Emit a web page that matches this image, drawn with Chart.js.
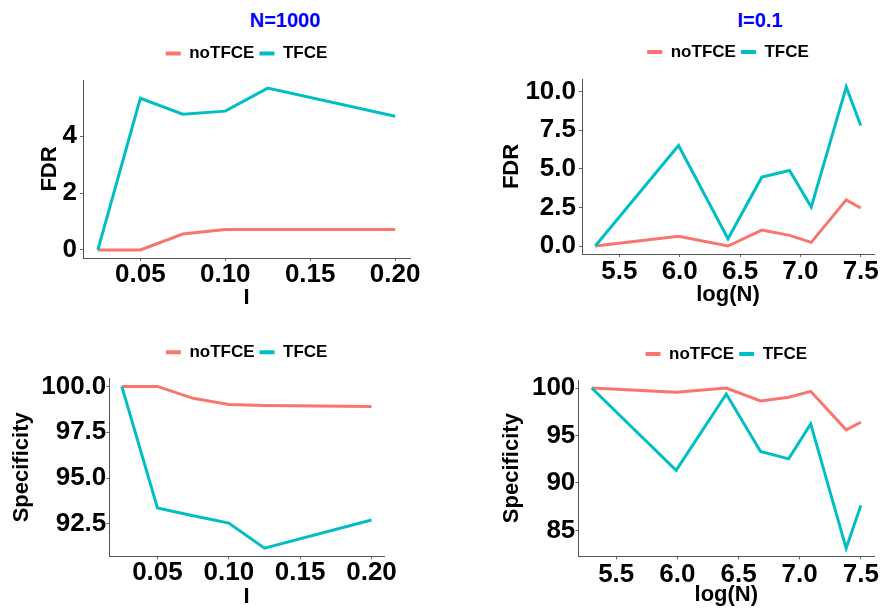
<!DOCTYPE html>
<html><head><meta charset="utf-8">
<script src="https://cdn.jsdelivr.net/npm/chart.js@4.4.1/dist/chart.umd.min.js"></script>
<style>
html,body{margin:0;padding:0;background:#fff;overflow:hidden;width:884px;height:611px;position:relative;}
canvas{position:absolute;}
.ttl{position:absolute;width:200px;text-align:center;font:bold 20px "Liberation Sans",Arial,sans-serif;color:#0000ff;line-height:24px;}
</style></head><body>
<div class="ttl" style="left:185px;top:8px">N=1000</div>
<div class="ttl" style="left:660px;top:8px">I=0.1</div>
<canvas id="c1" width="440" height="311" style="left:0px;top:0px"></canvas>
<canvas id="c2" width="458" height="311" style="left:442px;top:0px"></canvas>
<canvas id="c3" width="440" height="291" style="left:0px;top:320px"></canvas>
<canvas id="c4" width="458" height="291" style="left:442px;top:320px"></canvas>
<script>
// ---- data ----
const seriesNames = ['noTFCE', 'TFCE'];
const seriesColors = ['#F8766D', '#00BFC4'];

// left column: N = 1000, x = I
const iValues = [0.025, 0.05, 0.075, 0.1, 0.125, 0.2];
const fdrI_noTFCE = [0, 0, 0.56, 0.72, 0.72, 0.72];
const fdrI_TFCE = [0, 5.33, 4.77, 4.88, 5.69, 4.70];
const specI_noTFCE = [100, 100, 99.35, 99.01, 98.96, 98.90];
const specI_TFCE = [100, 93.37, 92.95, 92.55, 91.18, 92.72];

// right column: I = 0.1, x = log(N)
const logN = [5.30, 5.99, 6.40, 6.68, 6.91, 7.09, 7.38, 7.50];
const fdrN_noTFCE = [0, 0.63, 0, 1.03, 0.69, 0.24, 2.99, 2.46];
const fdrN_TFCE = [0, 6.51, 0.47, 4.46, 4.89, 2.52, 10.30, 7.80];
const specN_noTFCE = [100, 99.55, 100, 98.63, 99.02, 99.65, 95.59, 96.39];
const specN_TFCE = [100, 91.32, 99.37, 93.31, 92.54, 96.22, 83.12, 87.64];

// tick labels
const iTicks = [0.05, 0.10, 0.15, 0.20];
const logNTicks = [5.5, 6.0, 6.5, 7.0, 7.5];
const fdrITicks = [0, 2, 4];
const fdrNTicks = [0, 2.5, 5, 7.5, 10];
const specITicks = [92.5, 95, 97.5, 100];
const specNTicks = [85, 90, 95, 100];

Chart.defaults.font.family = '"Liberation Sans", Arial, sans-serif';

function expand(vals) {
  const mn = Math.min(...vals), mx = Math.max(...vals), d = (mx - mn) * 0.05;
  return [mn - d, mx + d];
}

function panel(id, xs, series, xTicks, xDec, yTicks, yDec, xTitle, yTitle, g) {
  const [xmin, xmax] = expand(xs);
  const [ymin, ymax] = expand(series[0].concat(series[1]));
  new Chart(document.getElementById(id), {
    type: 'line',
    data: {
      datasets: series.map((vals, i) => ({
        label: seriesNames[i],
        data: xs.map((xv, j) => ({x: xv, y: vals[j]})),
        borderColor: seriesColors[i],
        backgroundColor: seriesColors[i],
        borderWidth: 3,
        pointRadius: 0,
        tension: 0,
        fill: false,
        order: 1 - i
      }))
    },
    options: {
      responsive: false,
      animation: false,
      devicePixelRatio: 1,
      layout: {padding: {left: 0, right: g.padR, top: g.padT, bottom: 0}},
      plugins: {
        tooltip: {enabled: false},
        legend: {
          display: true, position: 'top', fullSize: false,
          labels: {
            font: {size: 17, weight: 'bold'}, color: '#000',
            boxWidth: 15, boxHeight: 4, padding: 5,
            sort: (a, b) => a.datasetIndex - b.datasetIndex,
            generateLabels: (chart) => chart.data.datasets.map((d, i) => ({
              text: d.label, fillStyle: d.borderColor, strokeStyle: d.borderColor,
              lineWidth: 0, hidden: false, datasetIndex: i, fontColor: '#000'
            }))
          }
        },
        title: {display: true, text: '', weight: 500, position: 'top', fullSize: false,
                font: {size: g.gap, lineHeight: 1}, padding: 0}
      },
      scales: {
        x: {
          type: 'linear', min: xmin, max: xmax,
          afterBuildTicks: (s) => { s.ticks = xTicks.map(v => ({value: v})); },
          afterFit: (s) => { s.height = g.xh; },
          ticks: {callback: (v) => Number(v).toFixed(xDec), font: {size: 26, weight: 'bold', lineHeight: 1},
                  color: '#000', padding: g.xtp, maxRotation: 0, autoSkip: false},
          grid: {display: true, drawOnChartArea: false, drawTicks: true, tickLength: 3, color: '#666'},
          border: {display: true, color: '#555', width: 1},
          title: {display: true, text: xTitle, font: {size: 22, weight: 'bold', lineHeight: 1.2},
                  color: '#000', padding: {top: 0, bottom: g.xtb}}
        },
        y: {
          type: 'linear', min: ymin, max: ymax,
          afterBuildTicks: (s) => { s.ticks = yTicks.map(v => ({value: v})); },
          afterFit: (s) => { s.width = g.yw; },
          ticks: {callback: (v) => Number(v).toFixed(yDec), font: {size: 26, weight: 'bold', lineHeight: 1},
                  color: '#000', padding: g.ytkp, autoSkip: false},
          grid: {display: true, drawOnChartArea: false, drawTicks: true, tickLength: 3, color: '#666'},
          border: {display: true, color: '#555', width: 1},
          title: {display: true, text: yTitle, font: {size: 22, weight: 'bold', lineHeight: 1.2},
                  color: '#000', padding: {top: g.ytp, bottom: 0}}
        }
      }
    }
  });
}

panel('c1', iValues, [fdrI_noTFCE, fdrI_TFCE], iTicks, 2, fdrITicks, 0, 'I', 'FDR',
      {padT: 40, gap: 8, padR: 30, xh: 53, xtb: 0, ytp: 36.5, yw: 83, ytkp: 3, xtp: 1.2});
panel('c2', logN, [fdrN_noTFCE, fdrN_TFCE], logNTicks, 1, fdrNTicks, 1, 'log(N)', 'FDR',
      {padT: 38.5, gap: 8.5, padR: 26, xh: 57, xtb: 3, ytp: 56.8, yw: 140, ytkp: 3, xtp: 1.7});
panel('c3', iValues, [specI_noTFCE, specI_TFCE], iTicks, 2, specITicks, 1, 'I', 'Specificity',
      {padT: 18.8, gap: 7.5, padR: 56, xh: 54.7, xtb: 1.3, ytp: 8.3, yw: 109.3, ytkp: 0, xtp: 1});
panel('c4', logN, [specN_noTFCE, specN_TFCE], logNTicks, 1, specNTicks, 0, 'log(N)', 'Specificity',
      {padT: 20.5, gap: 7.5, padR: 25.7, xh: 54.7, xtb: 3.1, ytp: 56.4, yw: 136.3, ytkp: 0, xtp: 3});
</script>
</body></html>
